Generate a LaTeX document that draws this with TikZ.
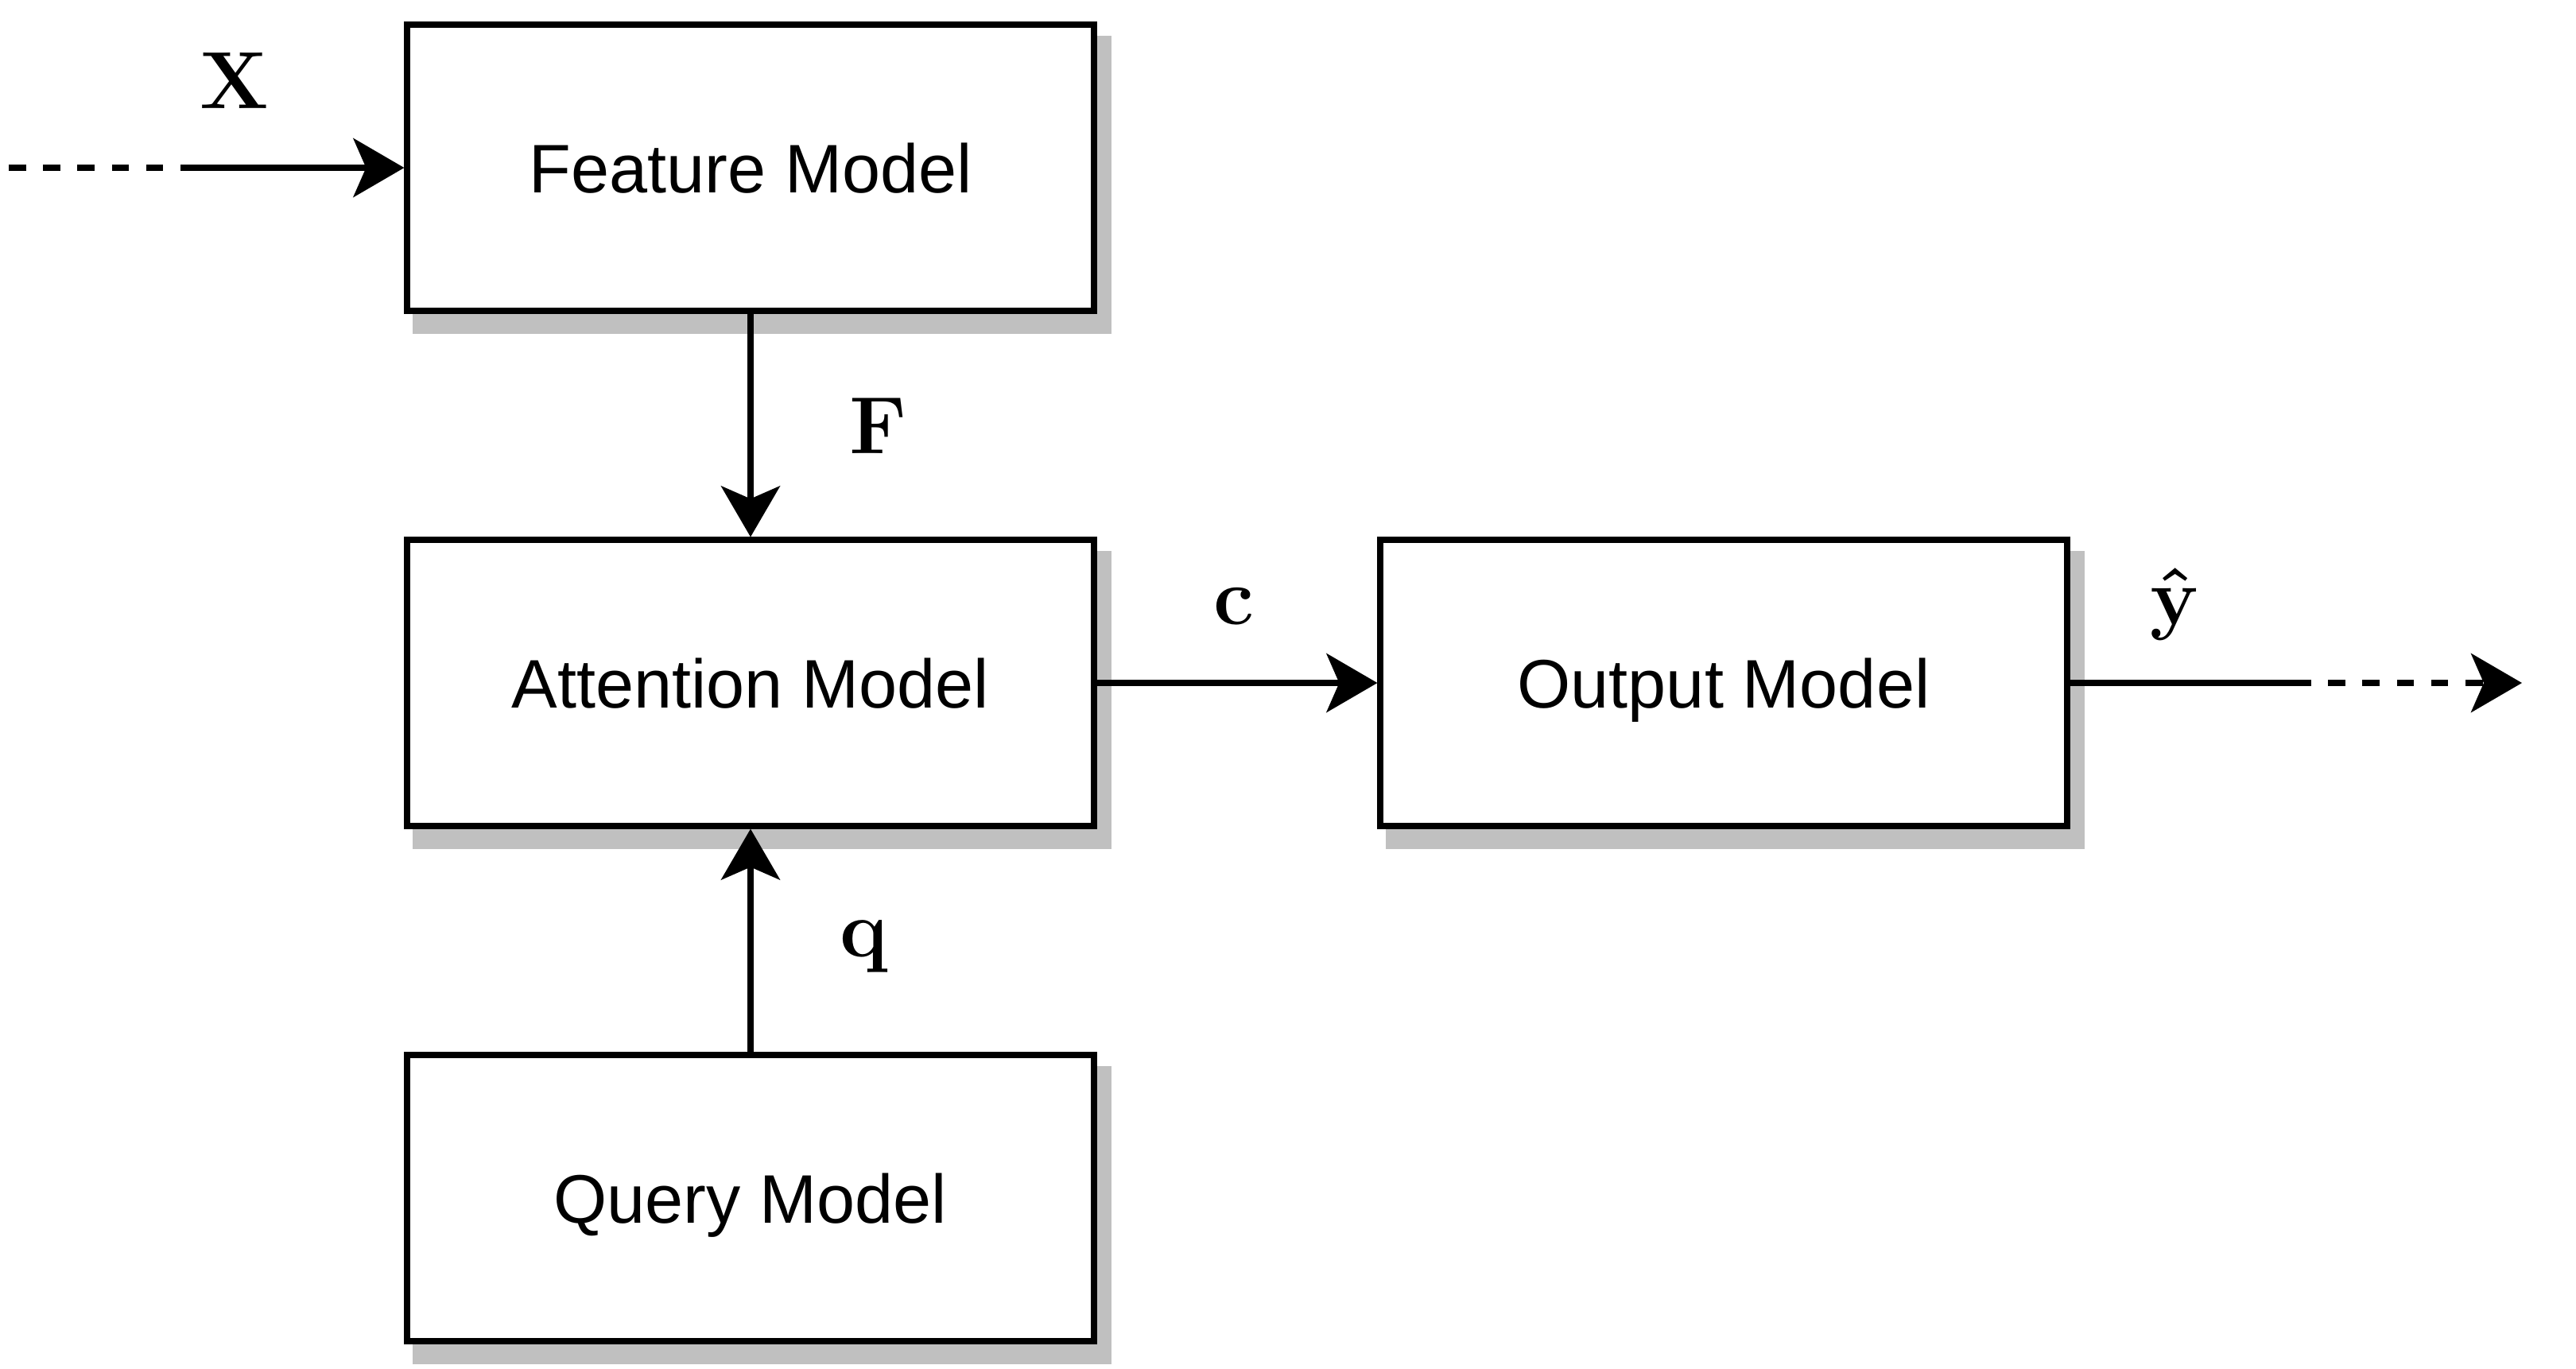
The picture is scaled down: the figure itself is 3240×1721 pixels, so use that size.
\RequirePackage{fix-cm}
\documentclass[tikz,border=0pt]{standalone}
\usepackage[no-math]{fontspec}
\setmainfont{Liberation Sans}
\usetikzlibrary{arrows.meta,backgrounds}
\definecolor{shadowgray}{RGB}{192,192,192}
\begin{document}
\begin{tikzpicture}[x=0.5pt,y=-0.5pt,
  blk/.style={draw=black, line width=3.6pt, fill=white, minimum width=432pt,
    minimum height=180pt, inner sep=0pt, text height=31pt, text depth=0pt,
    font=\fontsize{43.2}{52}\selectfont},
  lbl/.style={anchor=base, inner sep=0pt, font=\fontsize{51}{60}\selectfont},
  conn/.style={line width=3.6pt, draw=black},
  tip/.style={-{Stealth[length=32pt,width=37pt,inset=8pt]}},
  dsh/.style={dash pattern=on 10.8pt off 10.8pt}
]
\useasboundingbox (0,0) rectangle (3240,1721);
% boxes
\node[blk] (feat) at (944,211) {Feature Model};
\node[blk] (att) at (944,859) {Attention Model};
\node[blk] (qry) at (944,1507) {Query Model};
\node[blk] (out) at (2168,859) {Output Model};
% shadows
\begin{scope}[on background layer]
  \foreach \n in {feat,att,qry,out}{
    \path[fill=shadowgray, draw=shadowgray, line width=3.6pt]
      ([xshift=7.2pt,yshift=-10.8pt]\n.south west) rectangle ([xshift=7.2pt,yshift=-10.8pt]\n.north east);
  }
\end{scope}
% connector coordinates
\coordinate (xin) at (11,211);
\coordinate (xmid) at (227,211);
\coordinate (ymid) at (2885,859);
\coordinate (yout) at (3172,859);
% connectors
\draw[conn,dsh] (xin) -- (xmid);
\draw[conn,tip] (xmid) -- (feat.west);
\draw[conn,tip] (feat.south) -- (att.north);
\draw[conn,tip] (qry.north) -- (att.south);
\draw[conn,tip] (att.east) -- (out.west);
\draw[conn] (out.east) -- (ymid);
\draw[conn,dsh,tip] (ymid) -- (yout);
% labels
\node[lbl] (lx) at (295,136) {$\mathbf{X}$};
\node[lbl] (lf) at (1105,570) {$\mathbf{F}$};
\node[lbl] (lc) at (1552,785) {$\mathbf{c}$};
\node[lbl] (lq) at (1087,1203) {$\mathbf{q}$};
\node[lbl] (ly) at (2736,785) {$\mathbf{\hat{y}}$};
\end{tikzpicture}
\end{document}
